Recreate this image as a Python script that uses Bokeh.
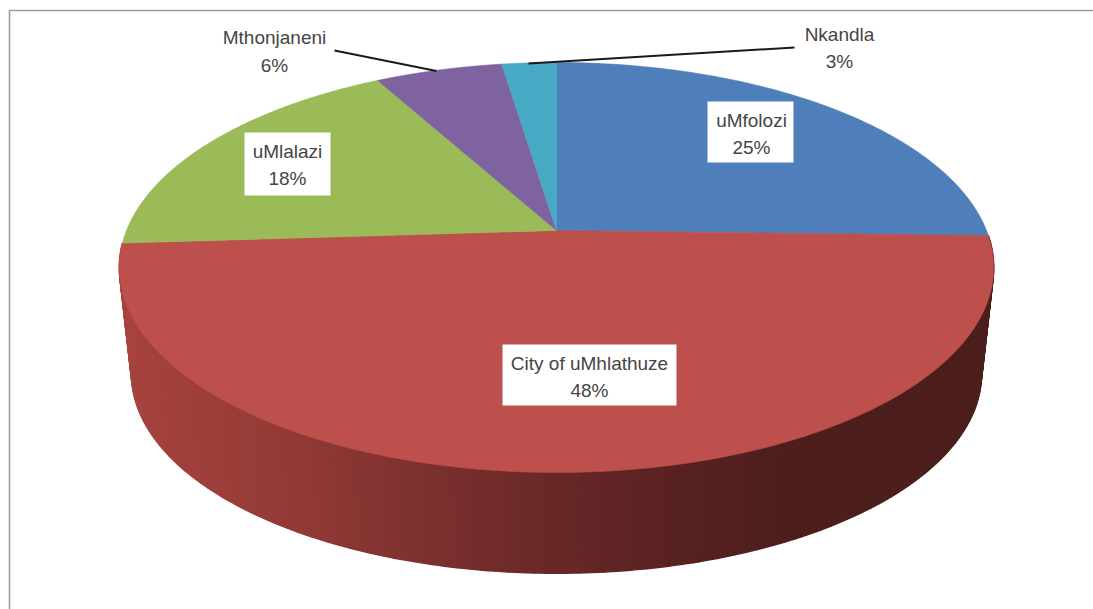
import numpy as np
from bokeh.plotting import figure
from bokeh.embed import file_html
from bokeh.resources import INLINE
from bokeh.core.properties import value
from bokeh.models import Range1d

# Data
districts = ["uMfolozi", "City of uMhlathuze", "uMlalazi", "Mthonjaneni", "Nkandla"]
shares = [25.4, 48.6, 18.0, 5.6, 2.4]   # slice sizes as measured on the drawing
share_labels = ["25%", "48%", "18%", "6%", "3%"]
colors = ["#4F7FBB", "#BD4F4C", "#9BBA58", "#7F62A0", "#47A9C4"]

W, H = 1093, 609
OX, OY = 0, 0
p = figure(width=W, height=H, output_backend="svg", toolbar_location=None,
           x_range=Range1d(OX, OX + W), y_range=Range1d(OY + H, OY),
           min_border=0, outline_line_color=None, background_fill_color="white")
p.axis.visible = False
p.grid.visible = False

# Perspective projection of the unit disc
CX, CY = 556.0, 230.0
FAR, NEAR = 168.0, 242.0
K = (NEAR - FAR) / (NEAR + FAR)
B = FAR * (1 + K)
A = 430.0
SCALE_LOW = 0.972
CY_LOW = 337.5

def rim(theta, scale=1.0, cy=CY):
    u, v = np.sin(theta), np.cos(theta)
    d = 1 + K * v
    return CX + scale * A * u / d, cy - scale * B * v / d

total = sum(shares)
edges = 2 * np.pi * np.cumsum([0] + shares) / total

# Outer wall of the large slice, shaded left to right
g_x = [120, 300, 440, 560, 680, 800, 1000]
g_r = [168, 146, 122, 104, 88, 76, 76]
g_g = [68, 58, 48, 40, 34, 30, 30]
g_b = [64, 54, 46, 40, 33, 28, 28]
t = np.linspace(edges[1], edges[2], 241)
xs_w, ys_w, cs_w = [], [], []
for a, b in zip(t[:-1], t[1:]):
    xa, ya = rim(a)
    xb, yb = rim(b)
    xc, yc = rim(b, SCALE_LOW, CY_LOW)
    xd, yd = rim(a, SCALE_LOW, CY_LOW)
    xs_w.append([xa, xb, xc, xd])
    ys_w.append([ya, yb, yc, yd])
    m = (xa + xb + xc + xd) / 4
    cs_w.append("#%02x%02x%02x" % (int(np.interp(m, g_x, g_r)),
                                   int(np.interp(m, g_x, g_g)),
                                   int(np.interp(m, g_x, g_b))))
p.patches(xs_w, ys_w, fill_color=cs_w, line_color=cs_w, line_width=1.5)

# Top faces of all slices
xs_t, ys_t = [], []
for i in range(len(shares)):
    th = np.linspace(edges[i], edges[i + 1], 160)
    x, y = rim(th)
    xs_t.append([CX] + list(x))
    ys_t.append([CY] + list(y))
p.patches(xs_t, ys_t, fill_color=colors, line_color=colors, line_width=0.6)

# Frame: only the top and left edges are visible
p.line([9, 9, OX + W], [OY + H, 10, 10], line_color="#9a9a9a", line_width=1.6)

# Leader lines
p.line([334, 436], [50, 70.5], line_color="#1a1a1a", line_width=2)
p.line([794, 528], [47, 63], line_color="#1a1a1a", line_width=2)

# White label boxes
p.quad(left=[707, 502, 244], right=[793, 676, 330], top=[101, 344, 132], bottom=[162, 405, 195],
       fill_color="white", line_color=None)

font = value("Liberation Sans")
label_x = [751, 589, 287, 274, 839]
label_y1 = [120, 363, 151, 37, 34]
label_y2 = [147, 390, 178, 65, 61]
p.text(label_x, label_y1, text=districts, text_font=font, text_font_size="19px",
       text_color="#454545", text_align="center", text_baseline="middle")
p.text(label_x, label_y2, text=share_labels, text_font=font, text_font_size="19px",
       text_color="#454545", text_align="center", text_baseline="middle")

open("out.html", "w").write(file_html(p, INLINE))
